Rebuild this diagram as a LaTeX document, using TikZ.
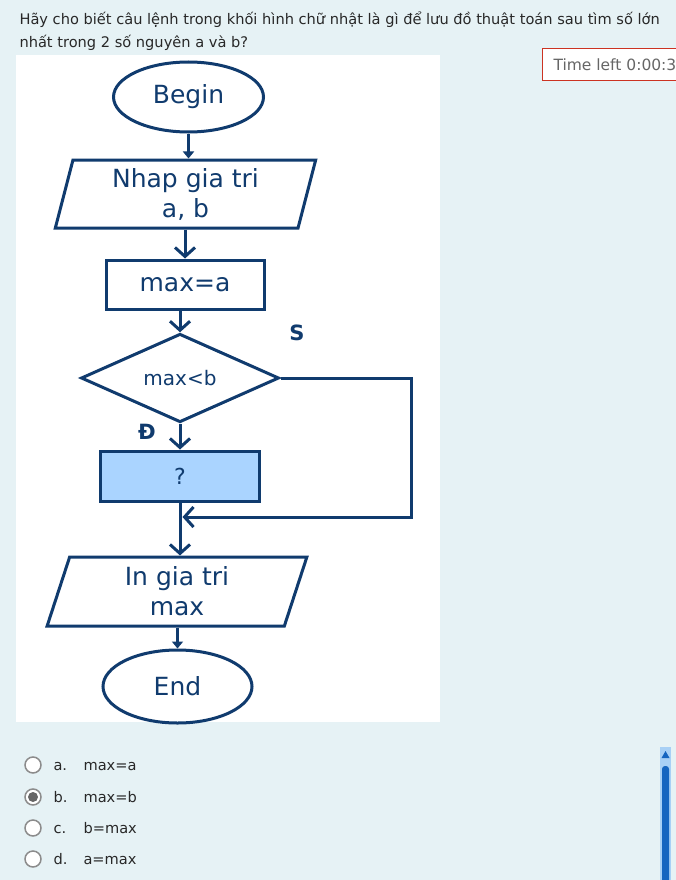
\documentclass[tikz,border=0pt]{standalone}
\usepackage{fontspec}
\setmainfont{DejaVu Sans}
\usetikzlibrary{arrows.meta,shapes.geometric}

\definecolor{pagebg}{RGB}{230,242,245}
\definecolor{fcblue}{RGB}{16,59,110}
\definecolor{boxfill}{RGB}{170,212,255}
\definecolor{qtext}{RGB}{40,40,40}
\definecolor{timered}{RGB}{204,51,34}
\definecolor{track}{RGB}{168,208,245}
\definecolor{thumb}{RGB}{21,101,192}

\tikzset{
  flow/.style={draw=fcblue, line width=3pt, text=fcblue, font=\fontsize{25}{30}\selectfont},
  terminal/.style={flow, ellipse, inner sep=0pt},
  iobox/.style={flow, trapezium, trapezium left angle=77.5, trapezium right angle=102.5,
    trapezium stretches=true, align=center, inner sep=0pt},
  procbox/.style={flow, rectangle, inner sep=0pt},
  decision/.style={flow, diamond, inner sep=0pt, font=\fontsize{20}{24}\selectfont},
  arr/.style={draw=fcblue, line width=3pt, -{Straight Barb[length=9pt,width=20pt,line width=3pt]}},
  tarr/.style={draw=fcblue, line width=3pt, -{Triangle[length=7pt,width=11pt]}},
  answer/.style={anchor=base west, text=qtext, font=\fontsize{14.6}{17}\selectfont}
}

\begin{document}
\begin{tikzpicture}[x=1pt, y=-1pt]
      %% \draw [help lines, step=50] (0,0) grid (676,880);
      \useasboundingbox (0,0) rectangle (676,880);
      \fill [pagebg] (0,0) rectangle (676,880);

      %% question
      \node [answer] (q1) at (16,25)
      {Hãy cho biết câu lệnh trong khối hình chữ nhật là gì để lưu đồ thuật toán sau tìm số lớn};
      \node [answer] (q2) at (16,48)
      {nhất trong 2 số nguyên a và b?};

      %% timer
      \begin{scope}
        \clip (0,0) rectangle (676,880);
        \draw [timered, fill=white, line width=1pt] (542,49) rectangle (690,81);
        \node [anchor=base west, text=black!60, font=\fontsize{15.5}{18}\selectfont] (timer)
        at (550,71) {Time left 0:00:37};
      \end{scope}

      %% flowchart
      \fill [white] (16,55) rectangle (440,722);

      \node [terminal, minimum width=150pt, minimum height=70pt] (begin) at (188.5,97) {Begin};
      \node [iobox, minimum width=261pt, minimum height=68pt] (input) at (185.5,194)
      {Nhap gia tri\\a, b};
      \node [procbox, minimum width=158pt, minimum height=49pt] (init) at (185,284.5) {max=a};
      \node [decision, minimum width=198pt, minimum height=70pt] (cond) at (180,378) {max<b};
      \node [procbox, fill=boxfill, minimum width=159pt, minimum height=50pt] (assign)
      at (180,476) {\fontsize{22}{26}\selectfont ?};
      \node [iobox, minimum width=260pt, minimum height=69pt] (output) at (177,591.5)
      {In gia tri\\max};
      \node [terminal, minimum width=149pt, minimum height=73pt] (end) at (177.5,686.5) {End};

      \node [text=fcblue, font=\bfseries\fontsize{21}{24}\selectfont] (yes) at (147,432) {Đ};
      \node [text=fcblue, font=\bfseries\fontsize{21}{24}\selectfont] (no) at (297,333) {S};

      \coordinate (sE) at (411,378);
      \coordinate (sS) at (411,517);
      \coordinate (join) at (182.5,517);

      \draw [tarr] (begin.south) -- (begin.south |- input.north);
      \draw [arr] (input.south -| init.north) -- (init.north);
      \draw [arr] (init.south -| cond.north) -- (cond.north);
      \draw [arr] (cond.south) -- (assign.north);
      \draw [arr] (cond.east) -- (sE) -- (sS) -- (join);
      \draw [arr] (assign.south) -- (assign.south |- output.north);
      \draw [tarr] (output.south -| end.north) -- (end.north);

      %% answers
      \foreach \y/\l/\t in {765/a/max=a, 797/b/max=b, 828/c/b=max, 859/d/a=max} {
        \draw [black!45, line width=1.5pt, fill=white] (33,\y) circle (8);
        \node [answer] (lbl\l) at (50,\y+5) {\l.};
        \node [answer] (opt\l) at (80,\y+5) {\t};
      }
      \fill [black!60] (33,797) circle (5);

      %% scrollbar
      \fill [track] (660,747) rectangle (671,880);
      \fill [thumb, rounded corners=3] (662,766) rectangle (669,885);
      \fill [thumb] (665.5,751) -- (661.5,758) -- (669.5,758) -- cycle;

   \end{tikzpicture}
\end{document}
